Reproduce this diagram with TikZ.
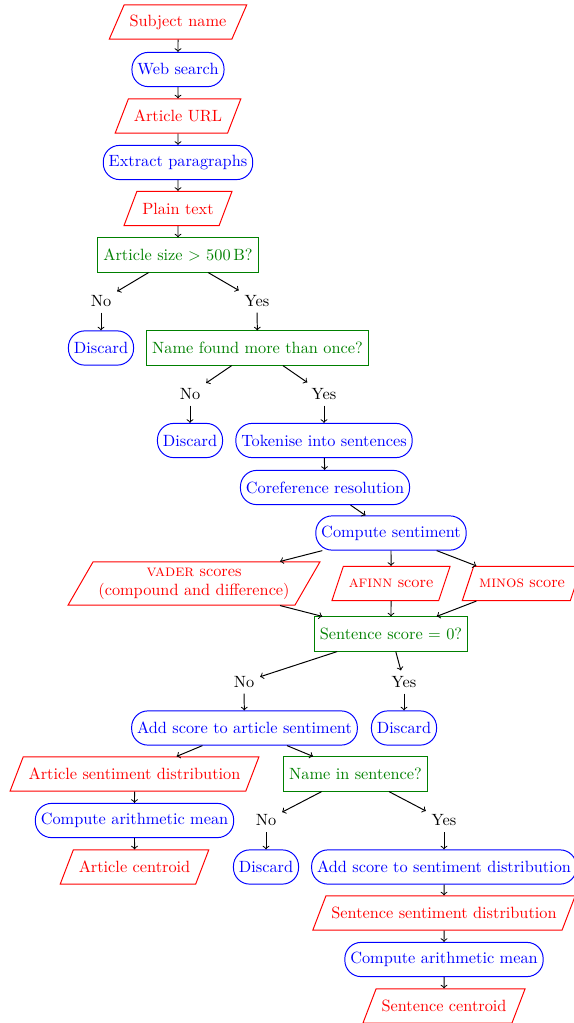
\documentclass[tikz,border=0pt]{standalone}
\usepackage{amsmath,amssymb}
\usepackage{xcolor}
\usepackage{tikz}
\usetikzlibrary{shapes.geometric}

\begin{document}
\begin{tikzpicture}[x=0.6135pt,y=-0.6135pt,semithick,
  data/.style={draw=red,text=red,trapezium,trapezium left angle=60,trapezium right angle=120,trapezium stretches=true,minimum height=21pt},
  proc/.style={draw=blue,text=blue,rectangle,rounded corners=10pt,minimum height=21pt},
  test/.style={draw=green!50!black,text=green!50!black,rectangle,minimum height=21pt},
  answer/.style={text=black},
  flow/.style={->,black}]
\useasboundingbox (0,0) rectangle (574,1023);

% from the subject to the plain text%
\node[data] (subj) at (178,22) {Subject name};
\node[proc] (web) at (178,69.5) {Web search};
\node[data] (url) at (178,116) {Article URL};
\node[proc] (extract) at (178,162.5) {Extract paragraphs};
\node[data] (plain) at (178,208.5) {Plain text};

% article filters%
\node[test] (size) at (178,255) {Article size $>$ 500\,B?};
\node[answer] (sizeno) at (101,301) {No};
\node[answer] (sizeyes) at (257,301) {Yes};
\node[proc] (discA) at (101,348) {Discard};
\node[test] (found) at (257.5,348) {Name found more than once?};
\node[answer] (foundno) at (190,394) {No};
\node[answer] (foundyes) at (324,394) {Yes};
\node[proc] (discB) at (190,440.5) {Discard};
\node[proc] (tokenise) at (324,440.5) {Tokenise into sentences};
\node[proc] (coref) at (325,487.5) {Coreference resolution};
\node[proc] (compute) at (391,533) {Compute sentiment};

% the three scores%
\node[data,align=center] (vader) at (194,583.5) {\textsc{vader} scores\\(compound and difference)};
\node[data] (afinn) at (391,583.5) {\textsc{afinn} score};
\node[data] (minos) at (522,583.5) {\textsc{minos} score};

% sentence test%
\node[test] (zero) at (391,634) {Sentence score = 0?};
\node[answer] (zerono) at (244,682) {No};
\node[answer] (zeroyes) at (404,682) {Yes};
\node[proc] (addart) at (244.5,728) {Add score to article sentiment};
\node[proc] (discC) at (404,728) {Discard};
\node[data] (artdist) at (134.5,774) {Article sentiment distribution};
\node[test] (insent) at (355.5,774) {Name in sentence?};
\node[proc] (artmean) at (134.5,820.5) {Compute arithmetic mean};
\node[answer] (insentno) at (266,820.5) {No};
\node[answer] (insentyes) at (444,820.5) {Yes};
\node[data] (artcent) at (134.5,867) {Article centroid};
\node[proc] (discD) at (266,867) {Discard};
\node[proc] (addsent) at (444,867) {Add score to sentiment distribution};
\node[data] (sentdist) at (444,913) {Sentence sentiment distribution};
\node[proc] (sentmean) at (444,959.5) {Compute arithmetic mean};
\node[data] (sentcent) at (444,1006) {Sentence centroid};

% arrows%
\draw[flow] (subj) -- (web);
\draw[flow] (web) -- (url);
\draw[flow] (url) -- (extract);
\draw[flow] (extract) -- (plain);
\draw[flow] (plain) -- (size);
\draw[flow] (size) -- (sizeno);
\draw[flow] (size) -- (sizeyes);
\draw[flow] (sizeno) -- (discA);
\draw[flow] (sizeyes) -- (found);
\draw[flow] (found) -- (foundno);
\draw[flow] (found) -- (foundyes);
\draw[flow] (foundno) -- (discB);
\draw[flow] (foundyes) -- (tokenise);
\draw[flow] (tokenise) -- (coref);
\draw[flow] (coref) -- (compute);
\draw[flow] (compute) -- (vader);
\draw[flow] (compute) -- (afinn);
\draw[flow] (compute) -- (minos);
\draw[flow] (vader) -- (zero);
\draw[flow] (afinn) -- (zero);
\draw[flow] (minos) -- (zero);
\draw[flow] (zero) -- (zerono);
\draw[flow] (zero) -- (zeroyes);
\draw[flow] (zerono) -- (addart);
\draw[flow] (zeroyes) -- (discC);
\draw[flow] (addart) -- (artdist);
\draw[flow] (addart) -- (insent);
\draw[flow] (artdist) -- (artmean);
\draw[flow] (artmean) -- (artcent);
\draw[flow] (insent) -- (insentno);
\draw[flow] (insent) -- (insentyes);
\draw[flow] (insentno) -- (discD);
\draw[flow] (insentyes) -- (addsent);
\draw[flow] (addsent) -- (sentdist);
\draw[flow] (sentdist) -- (sentmean);
\draw[flow] (sentmean) -- (sentcent);
\end{tikzpicture}
\end{document}
